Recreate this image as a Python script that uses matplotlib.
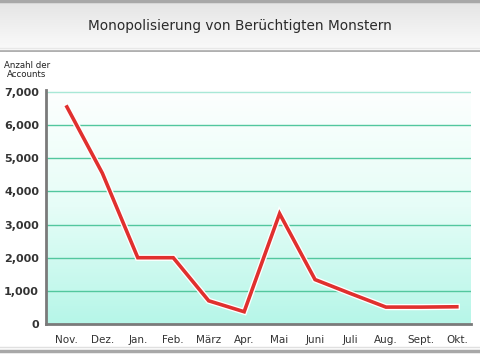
import matplotlib
matplotlib.use("Agg")
import matplotlib.pyplot as plt
import numpy as np
from matplotlib.colors import LinearSegmentedColormap

# Daten
monate = ["Nov.", "Dez.", "Jan.", "Feb.", "März", "Apr.", "Mai", "Juni", "Juli", "Aug.", "Sept.", "Okt."]
accounts = [6550, 4550, 2000, 2000, 700, 370, 3330, 1340, 920, 510, 510, 520]
y_ticks = [0, 1000, 2000, 3000, 4000, 5000, 6000, 7000]
titel = "Monopolisierung von Berüchtigten Monstern"
y_label = "Anzahl der\nAccounts"

plt.rcParams['font.family'] = ['DejaVu Sans']

fig = plt.figure(figsize=(4.8, 3.6), dpi=100)
fig.patch.set_facecolor("white")

# Titelleiste mit Verlauf
band = fig.add_axes([0, 1 - 52 / 360, 1, 52 / 360])
band_cmap = LinearSegmentedColormap.from_list("band", ["#e4e4e4", "#fbfbfb"])
band.imshow(np.linspace(0, 1, 64).reshape(-1, 1), aspect="auto", cmap=band_cmap,
            extent=[0, 1, 0, 1], origin="upper")
band.set_xlim(0, 1)
band.set_ylim(0, 1)
band.axis("off")
band.axhline(0.985, color="#a8a8a8", lw=2.5)
band.axhline(0.02, color="#b0b0b0", lw=2)
band.axhline(0.08, color="#e8e8e8", lw=1)
band.text(0.5, 0.5, titel, ha="center", va="center", fontsize=9.8, color="#2a2a2a")

# Untere Linien
fig.add_artist(plt.Line2D([0, 1], [1 - 347 / 360] * 2, color="#e0e0e0", lw=1, transform=fig.transFigure))
fig.add_artist(plt.Line2D([0, 1], [1 - 351 / 360] * 2, color="#a8a8a8", lw=2.5, transform=fig.transFigure))

# Diagrammbereich
ax = fig.add_axes([46 / 480, 1 - 324 / 360, 425 / 480, 234 / 360])
ymax = 7000 * 234 / 232
x = np.arange(len(monate))
ax.set_xlim(-0.59, len(monate) - 1 + 0.4)
ax.set_ylim(0, ymax)

bg_cmap = LinearSegmentedColormap.from_list("bg", ["#fdfffe", "#e6fdf7", "#b6f6e8"])
ax.imshow(np.linspace(0, 1, 128).reshape(-1, 1), aspect="auto", cmap=bg_cmap,
          extent=[-0.59, len(monate) - 0.6, 0, ymax], origin="upper", zorder=0)

for t in y_ticks[1:]:
    c = "#a8e8d6" if t == y_ticks[-1] else "#52c79e"
    ax.axhline(t, color=c, lw=1.0, zorder=1)

ax.plot(x, accounts, color="white", lw=4.5, zorder=2, solid_joinstyle="miter")
ax.plot(x, accounts, color="#e0302e", lw=2.6, zorder=3, solid_joinstyle="miter")

ax.set_xticks(x)
ax.set_xticklabels(monate, fontsize=7.5, color="#333333")
ax.set_yticks(y_ticks)
ax.set_yticklabels([f"{v:,}" for v in y_ticks], fontsize=8, color="#333333", fontweight="bold")
ax.tick_params(length=0, pad=5)
ax.tick_params(axis="x", pad=8)

for s in ["top", "right"]:
    ax.spines[s].set_visible(False)
for s in ["left", "bottom"]:
    ax.spines[s].set_color("#7a7a7a")
    ax.spines[s].set_linewidth(2)

fig.text(27 / 480, 1 - 70 / 360, y_label, ha="center", va="center", fontsize=6.2,
         color="#222222", linespacing=0.95)

fig.savefig("out.png", dpi=100)
